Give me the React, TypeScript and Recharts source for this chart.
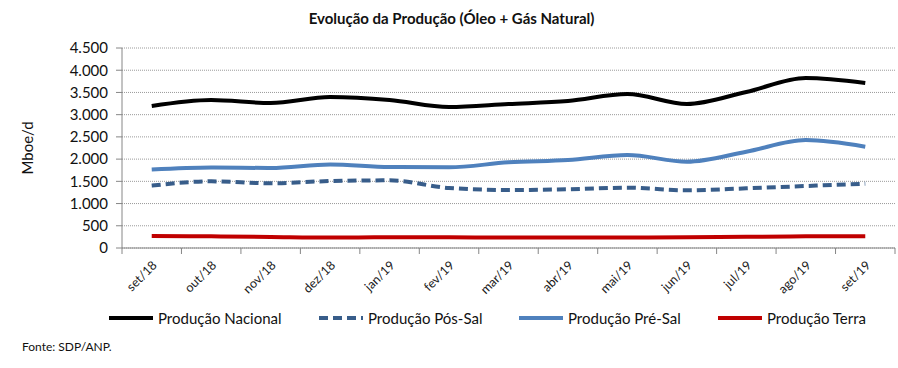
import React from "react";
import { LineChart, CartesianGrid, XAxis, YAxis, Line } from "recharts";

document.body.style.margin = "0";

const months = [
  "set/18", "out/18", "nov/18", "dez/18", "jan/19", "fev/19", "mar/19",
  "abr/19", "mai/19", "jun/19", "jul/19", "ago/19", "set/19",
];
const nacional = [3195, 3330, 3262, 3397, 3330, 3172, 3240, 3307, 3465, 3240, 3510, 3825, 3712];
const posSal = [1403, 1500, 1455, 1507, 1522, 1350, 1305, 1320, 1357, 1297, 1342, 1395, 1447];
const preSal = [1766, 1811, 1800, 1879, 1822, 1816, 1928, 1980, 2092, 1942, 2167, 2430, 2280];
const terra = [270, 262, 248, 235, 240, 240, 236, 235, 234, 240, 252, 262, 265];
const yTicks = [0, 500, 1000, 1500, 2000, 2500, 3000, 3500, 4000, 4500];

const data = months.map((m, i) => ({
  m,
  nacional: nacional[i],
  posSal: posSal[i],
  preSal: preSal[i],
  terra: terra[i],
}));

const FONT = "Lato, 'Open Sans', sans-serif";
const W = 898;
const H = 368;
const LEFT = 122;
const RIGHT = 3;
const STEP = (W - LEFT - RIGHT) / months.length;

const fmt = (v: number) => v.toLocaleString("pt-BR");

const MonthTick = (props: any) => {
  const { x, y, payload, index } = props;
  return (
    <g>
      <line x1={x - STEP / 2} y1={y - 8} x2={x - STEP / 2} y2={y - 2} stroke="#868686" />
      {index === months.length - 1 && (
        <line x1={x + STEP / 2} y1={y - 8} x2={x + STEP / 2} y2={y - 2} stroke="#868686" />
      )}
      <text
        x={x + 6}
        y={y + 10}
        textAnchor="end"
        fontSize={12.5}
        fill="#1a1a1a"
        fontFamily={FONT}
        transform={`rotate(-45 ${x + 6} ${y + 10})`}
      >
        {payload.value}
      </text>
    </g>
  );
};

const legendItems = [
  { name: "Produção Nacional", color: "#000000", dash: "", left: 108 },
  { name: "Produção Pós-Sal", color: "#385D8A", dash: "9 5", left: 318 },
  { name: "Produção Pré-Sal", color: "#4F81BD", dash: "", left: 518 },
  { name: "Produção Terra", color: "#C00000", dash: "", left: 717 },
];

export default function App() {
  return (
    <div style={{ position: "relative", width: W, height: H, background: "#fff", fontFamily: FONT }}>
      <div
        style={{
          position: "absolute",
          top: 9,
          left: 0,
          width: 903,
          textAlign: "center",
          fontWeight: 700,
          fontSize: 15,
          color: "#111",
        }}
      >
        Evolução da Produção (Óleo + Gás Natural)
      </div>
      <div
        style={{
          position: "absolute",
          left: 27,
          top: 148,
          transform: "translate(-50%, -50%) rotate(-90deg)",
          fontSize: 15,
          color: "#111",
          whiteSpace: "nowrap",
        }}
      >
        Mboe/d
      </div>
      <div style={{ position: "absolute", top: 0, left: 0 }}>
        <LineChart
          width={W}
          height={H}
          data={data}
          margin={{ top: 48, right: RIGHT, left: 0, bottom: 60 }}
        >
          <CartesianGrid
            vertical={false}
            stroke="#9a9a9a"
            strokeDasharray="1 1"
            horizontalValues={yTicks}
          />
          <XAxis
            dataKey="m"
            scale="band"
            interval={0}
            height={60}
            stroke="#868686"
            tickLine={false}
            tick={<MonthTick />}
          />
          <YAxis
            width={LEFT}
            domain={[0, 4500]}
            ticks={yTicks}
            interval={0}
            tickFormatter={fmt}
            stroke="#868686"
            tickLine={{ stroke: "#868686" }}
            tickSize={6}
            tickMargin={8}
            tick={{ fontSize: 15, fill: "#111", fontFamily: FONT }}
          />
          <Line type="monotone" dataKey="terra" stroke="#C00000" strokeWidth={4} dot={false} isAnimationActive={false} />
          <Line type="monotone" dataKey="posSal" stroke="#385D8A" strokeWidth={4} strokeDasharray="9 5" dot={false} isAnimationActive={false} />
          <Line type="monotone" dataKey="preSal" stroke="#4F81BD" strokeWidth={4} dot={false} isAnimationActive={false} />
          <Line type="monotone" dataKey="nacional" stroke="#000000" strokeWidth={4} dot={false} isAnimationActive={false} />
        </LineChart>
      </div>
      {legendItems.map((it) => (
        <div
          key={it.name}
          style={{
            position: "absolute",
            left: it.left,
            top: 309,
            display: "flex",
            alignItems: "center",
            fontSize: 15,
            color: "#111",
            whiteSpace: "nowrap",
          }}
        >
          <svg width={46} height={8} style={{ marginRight: 4 }}>
            <line x1={1} y1={4} x2={45} y2={4} stroke={it.color} strokeWidth={4} strokeDasharray={it.dash || undefined} />
          </svg>
          {it.name}
        </div>
      ))}
      <div style={{ position: "absolute", left: 22, top: 339, fontSize: 12, color: "#111" }}>
        Fonte: SDP/ANP.
      </div>
    </div>
  );
}
